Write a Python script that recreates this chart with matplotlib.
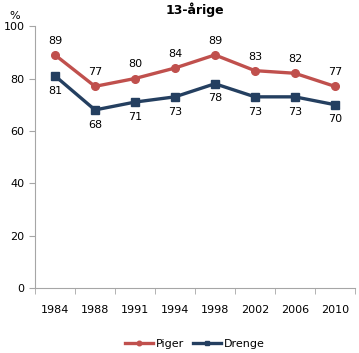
import matplotlib
matplotlib.use("Agg")
import matplotlib.pyplot as plt
import numpy as np

years = ["1984", "1988", "1991", "1994", "1998", "2002", "2006", "2010"]
piger = [89, 77, 80, 84, 89, 83, 82, 77]
drenge = [81, 68, 71, 73, 78, 73, 73, 70]

PIGER_COLOR = "#C0504D"
DRENGE_COLOR = "#243F60"
AXIS_COLOR = "#A6A6A6"
FS = 8

plt.rcParams["font.family"] = "DejaVu Sans"

fig = plt.figure(figsize=(3.59, 3.53), dpi=100)
ax = fig.add_axes([0.0975, 0.184, 0.891, 0.742])

x = np.arange(len(years))
ax.plot(x, piger, color=PIGER_COLOR, lw=2.4, marker="o", ms=5.5, label="Piger")
ax.plot(x, drenge, color=DRENGE_COLOR, lw=2.4, marker="s", ms=5.5, label="Drenge")

for xi, v in zip(x, piger):
    ax.annotate(str(v), (xi, v), xytext=(0, 6.5), textcoords="offset points",
                ha="center", va="bottom", fontsize=FS)
for xi, v in zip(x, drenge):
    ax.annotate(str(v), (xi, v), xytext=(0, -7), textcoords="offset points",
                ha="center", va="top", fontsize=FS)

ax.set_xlim(-0.5, len(years) - 0.5)
ax.set_ylim(0, 100)
ax.set_yticks([0, 20, 40, 60, 80, 100])
ax.set_xticks(x)
ax.set_xticklabels(years)
ax.set_xticks(np.arange(-0.5, len(years)), minor=True)
ax.tick_params(axis="x", which="major", length=0, pad=12, labelsize=FS)
ax.tick_params(axis="x", which="minor", length=4, color=AXIS_COLOR, direction="out")
ax.tick_params(axis="y", length=4, color=AXIS_COLOR, labelsize=FS)

for side in ("top", "right"):
    ax.spines[side].set_visible(False)
for side in ("left", "bottom"):
    ax.spines[side].set_color(AXIS_COLOR)

ax.set_title("13-årige", fontsize=9, fontweight="bold", pad=9)
fig.text(0.042, 0.955, "%", fontsize=FS, ha="center", va="center")

ax.legend(loc="upper center", bbox_to_anchor=(0.5, -0.155), ncol=2, frameon=False,
          fontsize=FS, handlelength=2.5, columnspacing=0.8, handletextpad=0.3,
          markerscale=0.6)

fig.savefig("out.png", dpi=100)
